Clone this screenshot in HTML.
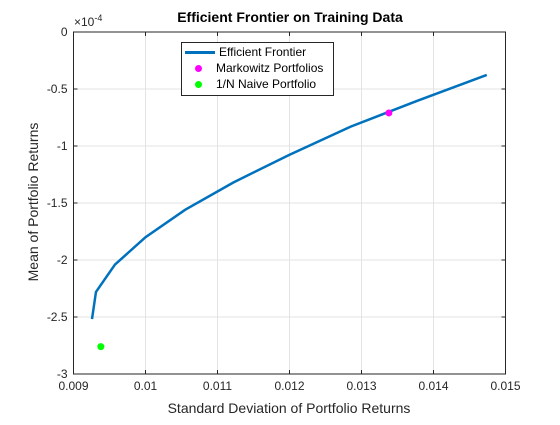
<!DOCTYPE html>
<html><head><meta charset="utf-8"><style>
body{margin:0;background:#fff;font-family:"Liberation Sans",sans-serif}
</style></head><body>
<svg id="c" width="560" height="420" font-family="Liberation Sans, sans-serif"></svg>
<script>
const frontierX=[0.009257,0.009312,0.009576,0.0100,0.01055,0.01122,0.01199,0.01285,0.01377,0.01474];
const frontierY=[-2.518,-2.28,-2.04,-1.80,-1.56,-1.32,-1.08,-0.83,-0.605,-0.377];
const markowitzX=[0.01338];const markowitzY=[-0.71];
const naiveX=[0.00938];const naiveY=[-2.76];
const xTicks=[0.009,0.01,0.011,0.012,0.013,0.014,0.015];
const xTickLabels=["0.009","0.01","0.011","0.012","0.013","0.014","0.015"];
const yTicks=[0,-0.5,-1,-1.5,-2,-2.5,-3];
const yTickLabels=["0","-0.5","-1","-1.5","-2","-2.5","-3"];
const L=73.5,R=505.5,T=32,B=374;
const sx=v=>L+(v-0.009)/0.006*(R-L);
const sy=v=>T+(-v)/3*(B-T);
const svg=document.getElementById('c');const NS='http://www.w3.org/2000/svg';
function mk(t,a,p){const e=document.createElementNS(NS,t);for(const k in a)e.setAttribute(k,a[k]);(p||svg).appendChild(e);return e;}
const bg=mk('rect',{x:L,y:T,width:R-L,height:B-T,fill:'#fff'});


xTicks.forEach((v,i)=>{const x=sx(v);
const g=mk('line',{x1:x,x2:x,y1:T,y2:B,stroke:'#e3e3e3','stroke-width':1});


mk('line',{x1:x,x2:x,y1:B,y2:B-4,stroke:'#262626'});mk('line',{x1:x,x2:x,y1:T,y2:T+4,stroke:'#262626'});
const t=mk('text',{x:x,y:B+16,'text-anchor':'middle','font-size':12,fill:'#262626'});t.textContent=xTickLabels[i];

});
yTicks.forEach((v,i)=>{const y=sy(v);
const g=mk('line',{x1:L,x2:R,y1:y,y2:y,stroke:'#e3e3e3','stroke-width':1});


mk('line',{x1:L,x2:L+4,y1:y,y2:y,stroke:'#262626'});mk('line',{x1:R,x2:R-4,y1:y,y2:y,stroke:'#262626'});
const t=mk('text',{x:L-6,y:y+4,'text-anchor':'end','font-size':12,fill:'#262626'});t.textContent=yTickLabels[i];

});
const ax=mk('rect',{x:L,y:T,width:R-L,height:B-T,fill:'none',stroke:'#262626','stroke-width':1});


const line=mk('polyline',{points:frontierX.map((v,i)=>sx(v)+','+sy(frontierY[i])).join(' '),fill:'none',stroke:'#0072bd','stroke-width':2.5});


markowitzX.forEach((v,i)=>{const c=mk('circle',{cx:sx(v),cy:sy(markowitzY[i]),r:3.5,fill:'#ff00ff'});

});
naiveX.forEach((v,i)=>{const c=mk('circle',{cx:sx(v),cy:sy(naiveY[i]),r:3.5,fill:'#00ff00'});

});
</script>
<div style="position:absolute;left:0;top:0;width:560px;height:420px;pointer-events:none">
<div style="position:absolute;left:0;width:580px;top:9px;text-align:center;font-weight:bold;font-size:14px;color:#000">Efficient Frontier on Training Data</div>
<div style="position:absolute;left:74px;top:13px;font-size:12px;color:#262626">×10<sup style="font-size:9px">-4</sup></div>
<div style="position:absolute;left:73px;width:432px;top:400px;text-align:center;font-size:14px;color:#262626">Standard Deviation of Portfolio Returns</div>
<div style="position:absolute;left:-77px;top:194px;width:220px;text-align:center;font-size:14px;color:#262626;transform:rotate(-90deg)">Mean of Portfolio Returns</div>
<div style="position:absolute;left:181px;top:42px;width:151px;height:52px;border:1px solid #262626;background:#fff;font-size:12px;color:#000">
<div style="position:absolute;left:3px;top:2px;white-space:nowrap"><span style="display:inline-block;width:30px;height:3px;background:#0072bd;vertical-align:middle;margin-right:4px"></span>Efficient Frontier</div>
<div style="position:absolute;left:13px;top:18px;white-space:nowrap"><span style="display:inline-block;width:7px;height:7px;border-radius:50%;background:#ff00ff;vertical-align:middle;margin-right:14px"></span>Markowitz Portfolios</div>
<div style="position:absolute;left:13px;top:34px;white-space:nowrap"><span style="display:inline-block;width:7px;height:7px;border-radius:50%;background:#00ff00;vertical-align:middle;margin-right:14px"></span>1/N Naive Portfolio</div>
</div></div>
</body></html>
